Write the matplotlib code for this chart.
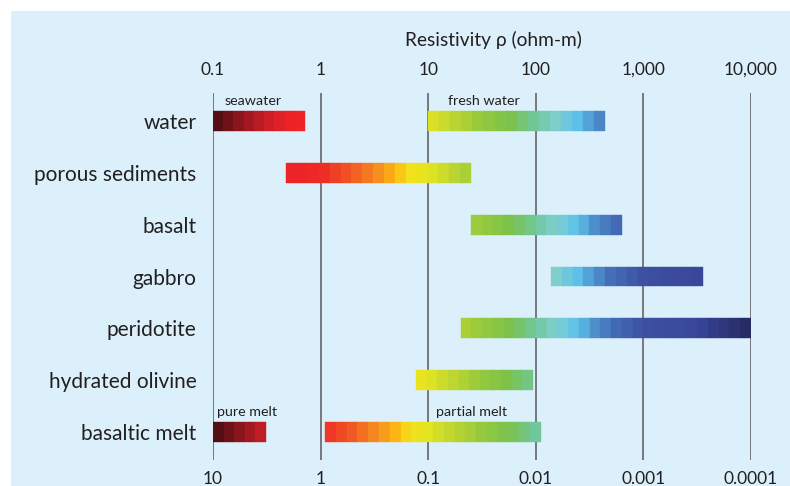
import numpy as np
import matplotlib.pyplot as plt
from matplotlib.colors import LinearSegmentedColormap
from matplotlib.patches import Rectangle

plt.rcParams['font.family'] = ['Lato', 'DejaVu Sans']

# rock types, top to bottom
rocks = ['water', 'porous sediments', 'basalt', 'gabbro', 'peridotite',
         'hydrated olivine', 'basaltic melt']

# resistivity ranges in ohm-m: (row, low, high)
bar_row = [0, 0, 1, 2, 3, 4, 5, 6, 6]
bar_lo = [0.1, 10, 0.48, 25, 138, 20, 7.7, 0.1, 1.1]
bar_hi = [0.72, 440, 25, 630, 3550, 10000, 94, 0.31, 112]

# sub-labels above some bars
note_text = ['seawater', 'fresh water', 'pure melt', 'partial melt']
note_x = [0.127, 15.3, 0.109, 11.9]
note_row = [0, 0, 6, 6]

top_ticks = [0.1, 1, 10, 100, 1000, 10000]
top_labels = ['0.1', '1', '10', '100', '1,000', '10,000']
bottom_labels = ['10', '1', '0.1', '0.01', '0.001', '0.0001']

# colour as a function of log10(resistivity)
stops = [(-1.0, '#4a0c12'), (-0.55, '#c41e26'), (-0.3, '#ec2227'),
         (0.0, '#ee2a25'), (0.3, '#f15a24'), (0.55, '#f7941d'),
         (0.7, '#fcb814'), (0.82, '#f5e01a'), (1.0, '#e4e422'),
         (1.2, '#c2d82f'), (1.5, '#95c93d'), (1.75, '#7cc24a'),
         (2.0, '#6fc79a'), (2.2, '#7fcfd0'), (2.4, '#5bbfea'),
         (2.55, '#4d8fcb'), (2.7, '#4470b8'), (3.0, '#3d50a2'),
         (3.5, '#39479a'), (4.0, '#262a62')]
cmap = LinearSegmentedColormap.from_list(
    'rho', [((v + 1) / 5, c) for v, c in stops])

fig = plt.figure(figsize=(7.9, 4.86), dpi=100)
fig.patch.set_facecolor('white')
fig.patches.append(Rectangle((11 / 790, 0), 1, 1 - 11 / 486,
                             transform=fig.transFigure,
                             facecolor='#dcf0fb', edgecolor='none', zorder=-10))

ax = fig.add_axes([213 / 790, 1 - 460 / 486, 538 / 790, 367 / 486])
ax.set_facecolor('none')
ax.set_xscale('log')
ax.set_xlim(0.1, 10000)
ax.set_ylim(6.54, -0.54)
for s in ax.spines.values():
    s.set_visible(False)

for t in top_ticks:
    ax.axvline(t, color='#6d6e71', lw=1.3, zorder=1)

# each bar is a run of short blocks, about a tenth of a decade each
step = 0.1
for r, lo, hi in zip(bar_row, bar_lo, bar_hi):
    a, b = np.log10(lo), np.log10(hi)
    n = max(1, int(round((b - a) / step)))
    edges = np.linspace(a, b, n + 1)
    for e0, e1 in zip(edges[:-1], edges[1:]):
        c = cmap(((e0 + e1) / 2 + 1) / 5)
        ax.barh(r, 10 ** e1 - 10 ** e0, left=10 ** e0, height=0.385,
                color=c, edgecolor=c, lw=0.3, zorder=2)

for txt, x, r in zip(note_text, note_x, note_row):
    ax.text(x, r - 0.27, txt, fontsize=10.3, color='#231f20',
            ha='left', va='bottom', zorder=3)

ax.set_yticks(range(len(rocks)))
ax.set_yticklabels(rocks, fontsize=15, color='#231f20')
ax.tick_params(axis='y', length=0, pad=12)

ax.set_xticks(top_ticks)
ax.set_xticklabels(top_labels, fontsize=12.5, color='#231f20')
ax.xaxis.set_minor_locator(plt.NullLocator())
ax.tick_params(axis='x', which='both', length=0, top=True, bottom=False,
               labeltop=True, labelbottom=False, pad=11)

sec = ax.secondary_xaxis('bottom')
sec.set_xticks(top_ticks)
sec.set_xticklabels(bottom_labels, fontsize=12.5, color='#231f20')
sec.xaxis.set_minor_locator(plt.NullLocator())
sec.tick_params(length=0, pad=8)
sec.spines['bottom'].set_visible(False)

fig.text(493 / 790, 1 - 40 / 486, 'Resistivity \u03c1 (ohm-m)', fontsize=13.8,
         color='#231f20', ha='center', va='center')

fig.savefig('out.png', dpi=100)
